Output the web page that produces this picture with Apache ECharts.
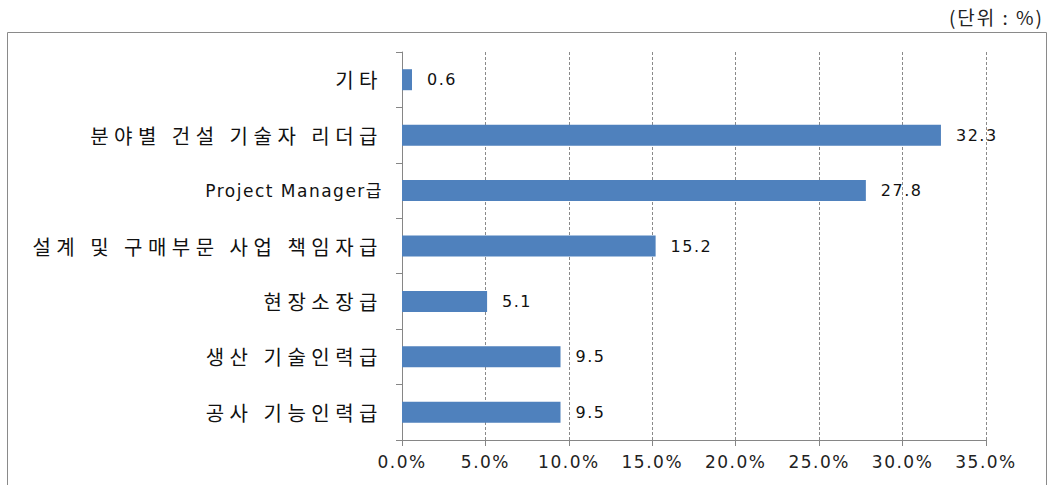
<!DOCTYPE html>
<html>
<head>
<meta charset="utf-8">
<script src="https://cdn.jsdelivr.net/npm/echarts@6/dist/echarts.min.js"></script>
<style>
  html, body { margin: 0; padding: 0; background: #fff; }
  #chart { width: 1053px; height: 485px; }
  /* wider letter spacing like the original Windows fonts */
  #chart text[style*="20px"] { letter-spacing: 5.5px; }
  #chart text[style*="19px"] { letter-spacing: 2px; }
  #chart text[style*="17px"] { letter-spacing: 1.5px; }
  #chart text[style*="16px"] { letter-spacing: 1.5px; }
</style>
</head>
<body>
<div id="chart"></div>
<script>
const categories = [
  '기타',
  '분야별 건설 기술자 리더급',
  'Project Manager급',
  '설계 및 구매부문 사업 책임자급',
  '현장소장급',
  '생산 기술인력급',
  '공사 기능인력급'
]
const values = [0.6, 32.3, 27.8, 15.2, 5.1, 9.5, 9.5]
const unitLabel = '(단위 : %)'

const chart = echarts.init(document.getElementById('chart'), null, { renderer: 'svg' })
const font = '"Noto Sans CJK KR", "DejaVu Sans", sans-serif'

// the latin label is drawn smaller, like in the original
const categoryData = categories.map((c) =>
  /[A-Za-z]/.test(c)
    ? { value: c, textStyle: { fontSize: 17, fontFamily: '"DejaVu Sans", "Noto Sans CJK KR", sans-serif' } }
    : c
)

chart.setOption({
  backgroundColor: '#fff',
  animation: false,
  title: {
    text: unitLabel,
    right: 20,
    top: 2,
    textStyle: { color: '#222', fontSize: 19, fontWeight: 'normal', fontFamily: font }
  },
  graphic: [
    {
      type: 'rect',
      shape: { x: 7.5, y: 32.5, width: 1039, height: 460 },
      style: { fill: 'none', stroke: '#8a8a8a', lineWidth: 1 },
      silent: true
    }
  ],
  grid: { left: 402, right: 67, top: 52, bottom: 45 },
  xAxis: {
    type: 'value',
    min: 0,
    max: 35,
    interval: 5,
    axisLine: { show: true, lineStyle: { color: '#868686' } },
    axisTick: { show: true, length: 6, lineStyle: { color: '#868686' } },
    splitLine: { show: true, lineStyle: { color: '#8a8a8a', type: [3, 2] } },
    axisLabel: {
      color: '#222',
      fontSize: 17,
      fontFamily: '"DejaVu Sans", sans-serif',
      margin: 13,
      formatter: (v) => v.toFixed(1) + '%'
    }
  },
  yAxis: {
    type: 'category',
    data: categoryData,
    inverse: true,
    axisLine: { show: true, lineStyle: { color: '#868686' } },
    axisTick: { show: true, length: 6, lineStyle: { color: '#868686' } },
    axisLabel: { color: '#111', fontSize: 20, fontFamily: font, margin: 19 }
  },
  series: [
    {
      type: 'bar',
      data: values,
      barWidth: 21,
      itemStyle: { color: '#4F81BD' },
      label: {
        show: true,
        position: 'right',
        distance: 15,
        color: '#111',
        fontSize: 16,
        fontFamily: '"DejaVu Sans", sans-serif',
        formatter: (p) => p.value.toFixed(1)
      }
    }
  ]
})
</script>
</body>
</html>
